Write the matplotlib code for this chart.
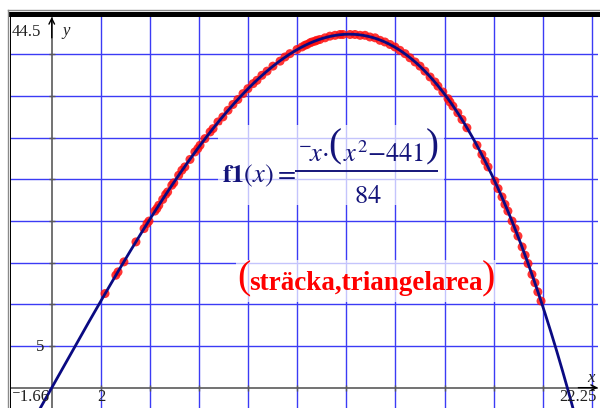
import matplotlib
matplotlib.use("Agg")
import matplotlib.pyplot as plt
import numpy as np
from matplotlib.patches import Rectangle
from matplotlib.lines import Line2D

plt.rcParams['mathtext.fontset'] = 'stix'
plt.rcParams['font.family'] = ['Liberation Serif', 'DejaVu Serif']

# measured pairs (sträcka, triangelarea)
stracka = [2.17, 2.61, 2.70, 2.94, 3.43, 3.76, 3.88, 3.96, 4.20, 4.28, 4.36,
           4.52, 4.64, 4.72, 4.89, 4.97, 5.17, 5.30, 5.42, 5.63, 5.83, 5.95,
           6.04, 6.24, 6.45, 6.57, 6.77, 6.97, 7.18, 7.38, 7.58, 7.79, 7.99,
           8.20, 8.36, 8.56, 8.77, 9.01, 9.30, 9.50, 9.70, 9.99, 10.19, 10.31,
           10.40, 10.52, 10.60, 10.72, 10.80, 10.92, 11.13, 11.33, 11.54, 11.74,
           11.86, 12.15, 12.35, 12.56, 12.76, 12.96, 13.17, 13.37, 13.57, 13.78,
           13.98, 14.18, 14.39, 14.59, 14.80, 15.00, 15.20, 15.41, 15.61, 15.73,
           15.93, 16.14, 16.22, 16.34, 16.54, 16.71, 16.91, 17.32, 17.52, 17.65,
           17.77, 18.05, 18.18, 18.34, 18.46, 18.58, 18.75, 18.87, 18.99, 19.16,
           19.28, 19.40, 19.56, 19.68, 19.80, 19.93]
triangelarea = [11.3, 13.5, 13.9, 15.1, 17.5, 19.1, 19.7, 20.0, 21.2, 21.5, 21.9,
                22.6, 23.2, 23.5, 24.3, 24.6, 25.5, 26.1, 26.5, 27.4, 28.3, 28.7,
                29.1, 29.9, 30.7, 31.1, 31.9, 32.5, 33.3, 34.0, 34.6, 35.3, 35.9,
                36.5, 36.9, 37.5, 38.0, 38.6, 39.2, 39.7, 40.1, 40.6, 40.9, 41.1,
                41.2, 41.4, 41.5, 41.6, 41.7, 41.8, 42.0, 42.2, 42.3, 42.4,
                42.4, 42.4, 42.4, 42.3, 42.3, 42.1, 42.0, 41.7, 41.5, 41.2,
                40.9, 40.5, 40.1, 39.6, 39.1, 38.6, 38.0, 37.3, 36.7, 36.2,
                35.5, 34.7, 34.3, 33.8, 33.0, 32.2, 31.2, 29.1, 28.0, 27.2,
                26.5, 24.8, 23.9, 22.9, 22.0, 21.2, 20.0, 19.1, 18.2, 16.9,
                15.9, 14.9, 13.6, 12.6, 11.5, 10.4]

# f1(x) = -x*(x^2-441)/84  ->  cubic coefficients
f1_coeffs = [-1 / 84, 0, 441 / 84, 0]

x_min, x_max = -1.66, 22.25
y_min, y_max = -2.44, 44.5
x_grid = [2, 4, 6, 8, 10, 12, 14, 16, 18, 20, 22]
y_grid = [5, 10, 15, 20, 25, 30, 35, 40]

W, H = 600, 408
AX_L, AX_T, AX_W, AX_H = 11, 17, 587, 391
fig = plt.figure(figsize=(W / 100, H / 100), dpi=100)
ax = fig.add_axes([AX_L / W, 1 - (AX_T + AX_H) / H, AX_W / W, AX_H / H])
ax.set_xlim(x_min, x_max)
ax.set_ylim(y_min, y_max)
ax.axis('off')


def px(u, v):
    # screen pixel -> data coordinates
    return (x_min + (u - AX_L) / AX_W * (x_max - x_min),
            y_max - (v - AX_T) / AX_H * (y_max - y_min))


grid_col = '#3b3bf5'
for gx in x_grid:
    ax.axvline(gx, color=grid_col, lw=1.0, zorder=1)
for gy in y_grid:
    ax.axhline(gy, color=grid_col, lw=1.0, zorder=1)

# axes through the origin
axis_col = '#5a5a5a'
ax.axhline(0, color=axis_col, lw=1.2, zorder=2)
ax.axvline(0, color=axis_col, lw=1.2, zorder=2)
ax.plot(x_grid, [0] * len(x_grid), ls='none', marker='|', ms=5, mew=1.0,
        color=axis_col, zorder=2)
ax.plot([0] * len(y_grid), y_grid, ls='none', marker='_', ms=5, mew=1.0,
        color=axis_col, zorder=2)
ax.annotate('', xy=(0, y_max), xytext=(0, y_max - 2.5),
            arrowprops=dict(arrowstyle='->', color='black', lw=1.0,
                            shrinkA=0, shrinkB=0), zorder=3)
ax.annotate('', xy=(x_max, 0), xytext=(x_max - 0.8, 0),
            arrowprops=dict(arrowstyle='->', color='black', lw=1.0,
                            shrinkA=0, shrinkB=0), zorder=3)

# data points and the fitted function
ax.scatter(stracka, triangelarea, s=42, color='#ff1010', alpha=0.85,
           edgecolors='none', zorder=4)
xs = np.linspace(x_min, x_max, 400)
ax.plot(xs, np.polyval(f1_coeffs, xs), color='#0a0a82', lw=2.0, zorder=5)

lbl = dict(fontsize=12, color='#202020', zorder=6)
ax.text(*px(12, 32), '44.5', ha='left', va='center', **lbl)
ax.text(*px(62, 31), 'y', ha='left', va='center', style='italic', **lbl)
ax.text(*px(44, 347), '5', ha='right', va='center', **lbl)
ax.text(*px(12, 397), '\u207b1.66', ha='left', va='center', **lbl)
ax.text(*px(101, 397), '2', ha='center', va='center', **lbl)
ax.text(*px(597, 397), '22.25', ha='right', va='center', **lbl)
ax.text(*px(591, 378), 'x', ha='center', va='center', style='italic', **lbl)

# formula label: white haze behind it, then the pieces
navy = '#14147a'
haze = dict(facecolor='white', alpha=0.7, edgecolor='none')
ax.add_patch(Rectangle(px(218, 205), 226 / AX_W * (x_max - x_min),
                       80 / AX_H * (y_max - y_min), zorder=5.5, **haze))
fs = 19
ax.text(*px(222, 182), r'$\mathbf{f1}(x)=$', fontsize=fs, color=navy,
        ha='left', va='baseline', zorder=6)
x0, y0 = px(295, 171)
x1, _ = px(438, 171)
ax.plot([x0, x1], [y0, y0], color=navy, lw=1.4, zorder=6,
        solid_capstyle='butt')
ax.text(*px(298, 162), r'${}^{-}\!x\!\cdot$', fontsize=fs, color=navy,
        ha='left', va='baseline', zorder=6)
ax.text(*px(335, 147), '(', fontsize=28, color=navy, ha='center',
        va='center', zorder=6)
ax.text(*px(343, 162), r'$x^{2}{-}441$', fontsize=fs, color=navy,
        ha='left', va='baseline', zorder=6)
ax.text(*px(432, 147), ')', fontsize=28, color=navy, ha='center',
        va='center', zorder=6)
ax.text(*px(368, 203), r'$84$', fontsize=fs, color=navy,
        ha='center', va='baseline', zorder=6)

# point-set label
red = '#ff0000'
ax.add_patch(Rectangle(px(236, 302), 260 / AX_W * (x_max - x_min),
                       42 / AX_H * (y_max - y_min), zorder=5.5, **haze))
ax.text(*px(366, 290), 'str\u00e4cka,triangelarea', fontsize=19.5,
        fontweight='bold', color=red, ha='center', va='baseline', zorder=6)
ax.text(*px(244, 279), '(', fontsize=29, color=red, ha='center',
        va='center', zorder=6)
ax.text(*px(488, 279), ')', fontsize=29, color=red, ha='center',
        va='center', zorder=6)

# window frame
fig.add_artist(Line2D([8 / W, 1], [1 - 10 / H] * 2, color='#8a8a8a', lw=1.0))
fig.add_artist(Rectangle((9 / W, 1 - 17 / H), 1, 5 / H, color='black', lw=0))
fig.add_artist(Line2D([8 / W] * 2, [0, 1 - 10 / H], color='#8a8a8a', lw=1.0))
fig.add_artist(Rectangle((9.5 / W, 0), 1.5 / W, 1 - 12 / H, color='black', lw=0))

fig.savefig('out.png', dpi=100)
